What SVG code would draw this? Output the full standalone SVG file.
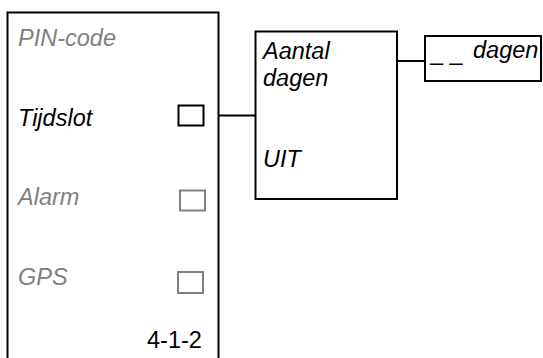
<svg xmlns="http://www.w3.org/2000/svg" width="543" height="358" viewBox="0 0 543 358">
<style>
.box{fill:#fff;stroke:#000;stroke-width:2}
.t{font-family:"Liberation Sans",Arial,sans-serif;font-size:23.5px;font-style:italic;fill:#000}
.g{fill:#808080}
.cb{fill:none;stroke:#000;stroke-width:2}
.cbg{fill:none;stroke:#808080;stroke-width:2}
.ln{stroke:#000;stroke-width:2;fill:none}
</style>
<g id="menu">
<rect class="box" x="7.5" y="12.5" width="211" height="360"/>
<text class="t g" x="18" y="46">PIN-code</text>
<text class="t" x="18" y="126">Tijdslot</text>
<rect class="cb" x="178.5" y="105.5" width="25" height="20"/>
<text class="t g" x="18" y="205">Alarm</text>
<rect class="cbg" x="180" y="190.5" width="25" height="20"/>
<text class="t g" x="18" y="285">GPS</text>
<rect class="cbg" x="178" y="272" width="25" height="21"/>
<text class="t" x="147" y="348" style="font-style:normal">4-1-2</text>
</g>
<g id="days">
<rect class="box" x="255.5" y="31.5" width="141.5" height="167.5"/>
<text class="t" x="263" y="59">Aantal</text>
<text class="t" x="263" y="86">dagen</text>
<text class="t" x="263" y="167">UIT</text>
</g>
<g id="value">
<rect class="box" x="425" y="36" width="116" height="45"/>
<text class="t" x="430" y="60" style="font-style:normal">_ _</text>
<text class="t" x="473" y="58">dagen</text>
</g>
<g id="connectors">
<line class="ln" x1="219" y1="115.5" x2="255" y2="115.5"/>
<line class="ln" x1="397" y1="61" x2="425" y2="61"/>
</g>
</svg>
